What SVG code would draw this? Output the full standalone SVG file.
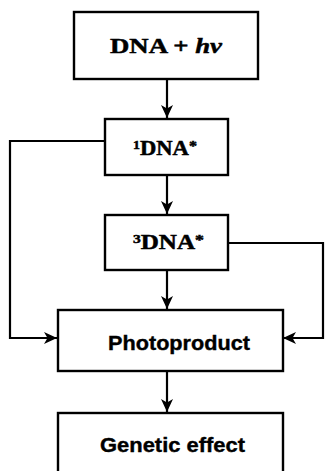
<svg xmlns="http://www.w3.org/2000/svg" width="325" height="471" viewBox="0 0 325 471">
  <style>
    .box { fill: #ffffff; stroke: #000000; stroke-width: 2.4; }
    .conn { fill: none; stroke: #000000; stroke-width: 2.2; }
    .serif { font-family: "Liberation Serif", "Times New Roman", serif; font-weight: bold; fill: #000000; stroke: #000000; stroke-width: 0.5; }
    .sans { font-family: "Liberation Sans", Arial, sans-serif; font-weight: bold; fill: #000000; stroke: #000000; stroke-width: 0.4; }
  </style>
  <defs>
    <marker id="arrow" markerUnits="userSpaceOnUse" markerWidth="14" markerHeight="14" viewBox="0 0 14 14" refX="13" refY="7" orient="auto">
      <path d="M0,1 L13,7 L0,13 L3.5,7 Z" fill="#000000"/>
    </marker>
  </defs>
  <rect x="0" y="0" width="325" height="471" fill="#ffffff"/>
  <g id="connectors">
    <path class="conn" d="M167,79 L167,118" marker-end="url(#arrow)"/>
    <path class="conn" d="M167,175 L167,214" marker-end="url(#arrow)"/>
    <path class="conn" d="M167,270 L167,309" marker-end="url(#arrow)"/>
    <path class="conn" d="M167,371 L167,412" marker-end="url(#arrow)"/>
    <path class="conn" d="M105,141 L10,141 L10,338 L57,338" marker-end="url(#arrow)"/>
    <path class="conn" d="M228,243 L323,243 L323,338 L283,338" marker-end="url(#arrow)"/>
  </g>
  <g id="node-dna-hv">
    <rect class="box" x="74" y="12" width="184" height="67"/>
    <text class="serif" x="110" y="53" font-size="22" textLength="112" lengthAdjust="spacingAndGlyphs">DNA + <tspan font-style="italic">h</tspan><tspan font-style="italic">ν</tspan></text>
  </g>
  <g id="node-1dna">
    <rect class="box" x="105" y="119" width="123" height="56"/>
    <text class="serif" x="133" y="155" font-size="21" textLength="64" lengthAdjust="spacingAndGlyphs"><tspan font-size="13" dy="-6">1</tspan><tspan dy="6">DNA</tspan><tspan font-size="15" dy="-4">*</tspan></text>
  </g>
  <g id="node-3dna">
    <rect class="box" x="105" y="215" width="123" height="55"/>
    <text class="serif" x="133" y="249" font-size="21" textLength="71" lengthAdjust="spacingAndGlyphs"><tspan font-size="13" dy="-6">3</tspan><tspan dy="6">DNA</tspan><tspan font-size="15" dy="-4">*</tspan></text>
  </g>
  <g id="node-photoproduct">
    <rect class="box" x="58" y="310" width="225" height="61"/>
    <text class="sans" x="108" y="350" font-size="21" textLength="142" lengthAdjust="spacingAndGlyphs">Photoproduct</text>
  </g>
  <g id="node-genetic">
    <rect class="box" x="58" y="413" width="225" height="70"/>
    <text class="sans" x="100" y="452" font-size="21" textLength="145" lengthAdjust="spacingAndGlyphs">Genetic effect</text>
  </g>
</svg>
